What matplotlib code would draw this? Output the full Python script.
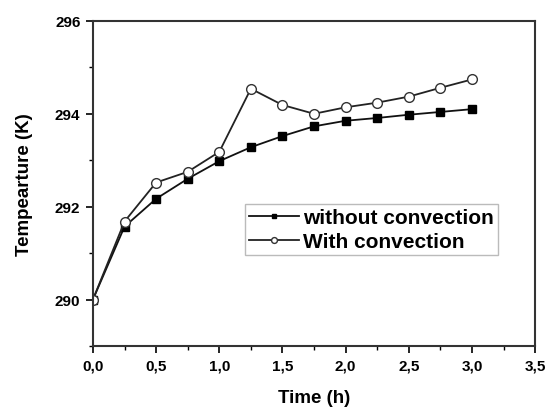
import matplotlib.pyplot as plt
from matplotlib.ticker import MultipleLocator

# data
time_h = [0.0, 0.25, 0.5, 0.75, 1.0, 1.25, 1.5, 1.75, 2.0, 2.25, 2.5, 2.75, 3.0]
temp_without = [290.0, 291.57, 292.17, 292.6, 292.98, 293.28, 293.52,
                293.73, 293.85, 293.91, 293.98, 294.04, 294.1]
temp_with = [290.0, 291.68, 292.52, 292.75, 293.18, 294.54, 294.19,
             294.0, 294.14, 294.24, 294.37, 294.56, 294.74]
x_ticks = [0, 0.5, 1, 1.5, 2, 2.5, 3, 3.5]
x_labels = ['0,0', '0,5', '1,0', '1,5', '2,0', '2,5', '3,0', '3,5']
y_ticks = [290, 292, 294, 296]

plt.rcParams['font.family'] = ['Liberation Sans', 'DejaVu Sans']
plt.rcParams['font.weight'] = 'bold'

fig = plt.figure(figsize=(5.5, 4.14), dpi=100)
ax = fig.add_axes([0.169, 0.162, 0.804, 0.785])

ax.plot(time_h, temp_without, color='#111111', lw=1.3, marker='s', ms=6,
        mfc='black', mec='black', label='without convection')
ax.plot(time_h, temp_with, color='#222222', lw=1.3, marker='o', ms=7,
        mfc='white', mec='#333333', mew=1.0, label='With convection')

ax.set_xlim(0, 3.5)
ax.set_ylim(289, 296)
ax.set_xticks(x_ticks)
ax.set_xticklabels(x_labels)
ax.set_yticks(y_ticks)
ax.xaxis.set_minor_locator(MultipleLocator(0.25))
ax.yaxis.set_minor_locator(MultipleLocator(1))

ax.tick_params(which='major', direction='out', length=5, width=1.2,
               labelsize=11, pad=4)
ax.tick_params(which='minor', direction='out', length=3, width=1.0)
for lab in ax.get_xticklabels() + ax.get_yticklabels():
    lab.set_fontweight('bold')
for s in ax.spines.values():
    s.set_linewidth(1.5)
    s.set_color('#333333')

ax.set_xlabel('Time (h)', fontsize=13.5, fontweight='bold', labelpad=12)
ax.set_ylabel('Tempearture (K)', fontsize=13.5, fontweight='bold', labelpad=16)

leg = ax.legend(loc='upper left', bbox_to_anchor=(0.344, 0.437),
                fontsize=15, frameon=True, fancybox=False, edgecolor='#aaaaaa',
                handlelength=2.4, handletextpad=0.2, borderpad=0.2,
                labelspacing=0.25, borderaxespad=0, markerscale=0.6)
leg.get_frame().set_linewidth(1.0)
for t in leg.get_texts():
    t.set_fontweight('bold')

fig.savefig('out.png', dpi=100)
